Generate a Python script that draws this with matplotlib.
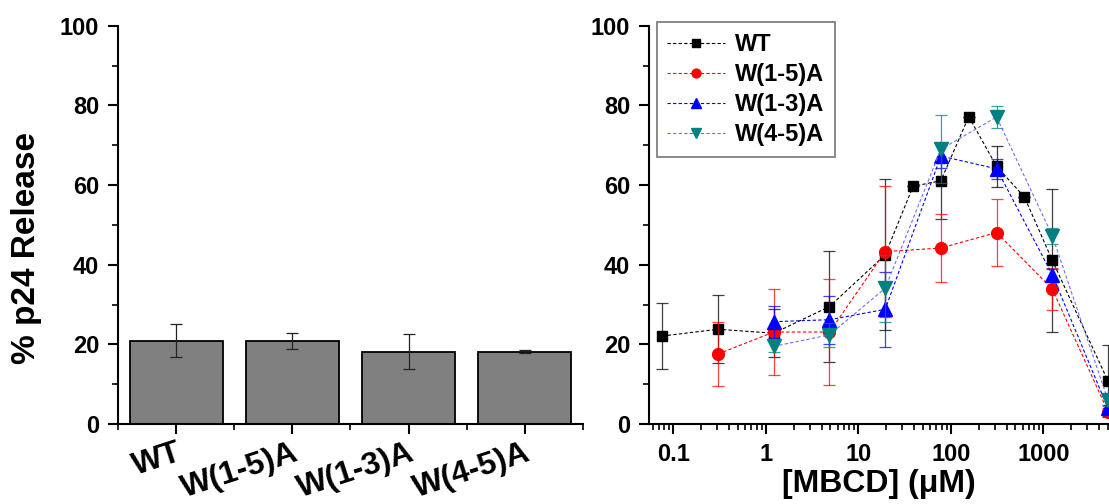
import numpy as np
import matplotlib.pyplot as plt
from matplotlib.ticker import MultipleLocator, FixedLocator, FuncFormatter, LogLocator

plt.rcParams['font.family'] = ['Liberation Sans', 'DejaVu Sans']
plt.rcParams['font.weight'] = 'bold'
plt.rcParams['axes.labelweight'] = 'bold'

# left panel: bars
bar_names = ["WT", "W(1-5)A", "W(1-3)A", "W(4-5)A"]
bar_vals = [20.9, 20.9, 18.2, 18.2]
bar_err = [4.1, 2.0, 4.5, 0.4]

# right panel: MBCD titration
wt_x = [0.076, 0.305, 1.22, 4.88, 19.53, 39.06, 78.1, 156.25, 312.5, 625, 1250, 5000]
wt_y = [22.1, 23.8, 22.8, 29.5, 42.5, 59.7, 61.1, 77.2, 64.7, 57.0, 41.1, 10.8]
wt_e = [8.4, 8.6, 6.0, 14.0, 19.0, 0, 9.5, 0, 5.2, 0, 18.0, 9.0]

w15_x = [0.305, 1.22, 4.88, 19.53, 78.1, 312.5, 1250, 5000]
w15_y = [17.6, 23.1, 23.1, 43.3, 44.2, 48.1, 33.9, 3.1]
w15_e = [8.0, 10.9, 13.4, 16.4, 8.6, 8.3, 5.2, 1.0]

w13_x = [1.22, 4.88, 19.53, 78.1, 312.5, 1250, 5000]
w13_y = [25.7, 26.2, 28.8, 67.3, 64.1, 37.5, 3.9]
w13_e = [4.0, 6.0, 9.5, 3.0, 2.5, 1.5, 1.0]

w45_x = [1.22, 4.88, 19.53, 78.1, 312.5, 1250, 5000]
w45_y = [19.5, 22.4, 34.1, 69.0, 77.1, 47.3, 6.0]
w45_e = [1.5, 3.0, 8.4, 8.5, 2.8, 2.0, 1.5]

fig = plt.figure(figsize=(11.09, 5.04), dpi=100)
ax1 = fig.add_axes([0.1064, 0.1587, 0.4193, 0.790])
ax2 = fig.add_axes([0.5852, 0.1587, 0.4148, 0.790])

#bars
pos = np.arange(len(bar_names))
ax1.bar(pos, bar_vals, width=0.8, color="#808080", edgecolor="black", linewidth=1.3)
ax1.errorbar(pos, bar_vals, yerr=bar_err, fmt="none", ecolor="#222222", elinewidth=0.9, capsize=4.3, capthick=0.9)
ax1.set_xlim(-0.5, 3.5)
ax1.set_ylim(0, 100)
ax1.set_xticks(pos)
ax1.set_xticklabels(bar_names, rotation=18, ha="right", va="top", rotation_mode="anchor", fontsize=23)
ax1.xaxis.set_minor_locator(FixedLocator([-0.5, 0.5, 1.5, 2.5, 3.5]))
ax1.yaxis.set_major_locator(MultipleLocator(20))
ax1.yaxis.set_minor_locator(MultipleLocator(10))
ax1.set_ylabel("% p24 Release", fontsize=24)
ax1.yaxis.set_label_coords(-0.163, 0.442)
ax1.spines["top"].set_visible(False)
ax1.spines["right"].set_visible(False)

#titration curves
series = [
    (wt_x, wt_y, wt_e, "WT", "s", "black", "black", 7.5),
    (w15_x, w15_y, w15_e, "W(1-5)A", "o", "red", "red", 8.5),
    (w13_x, w13_y, w13_e, "W(1-3)A", "^", "blue", "blue", 9.5),
    (w45_x, w45_y, w45_e, "W(4-5)A", "v", "#008080", "#6f6fff", 9.5),
]
for x, y, e, lab, m, c, lc, ms in series:
    ax2.errorbar(x, y, yerr=e, fmt="none", ecolor=c, elinewidth=0.9, capsize=4.3, capthick=0.9, alpha=0.75)
    ax2.plot(x, y, linestyle=(0, (3, 2)), linewidth=0.8, color=lc, marker=m,
             markersize=ms, markerfacecolor=c, markeredgecolor=c, label=lab)

ax2.set_xscale("log")
ax2.set_xlim(0.0546, 5127)
ax2.set_ylim(0, 100)
ax2.xaxis.set_major_locator(FixedLocator([0.1, 1, 10, 100, 1000]))
ax2.xaxis.set_minor_locator(LogLocator(base=10, subs=np.arange(2, 10)))
ax2.xaxis.set_major_formatter(FuncFormatter(lambda v, p: "%g" % v))
ax2.yaxis.set_major_locator(MultipleLocator(20))
ax2.yaxis.set_minor_locator(MultipleLocator(10))
ax2.set_xlabel("[MBCD] (\u03bcM)", fontsize=23, labelpad=2)
ax2.spines["top"].set_visible(False)
ax2.spines["right"].set_visible(False)
leg = ax2.legend(loc="upper left", bbox_to_anchor=(0.017, 1.009), borderaxespad=0, fontsize=17,
                 numpoints=1, markerscale=0.75, handlelength=2.45, handletextpad=0.4,
                 frameon=True, fancybox=False, edgecolor="gray", framealpha=1,
                 borderpad=0.45, labelspacing=0.3)
leg.get_frame().set_linewidth(1.3)

for ax in (ax1, ax2):
    for s in ("left", "bottom"):
        ax.spines[s].set_linewidth(1.5)
    ax.tick_params(which="major", direction="out", length=7.5, width=1.5, labelsize=17, pad=6)
    ax.tick_params(which="minor", direction="out", length=4, width=1.2)
ax1.tick_params(axis="x", labelsize=23, pad=2.5)

fig.savefig("out.png", dpi=100)
